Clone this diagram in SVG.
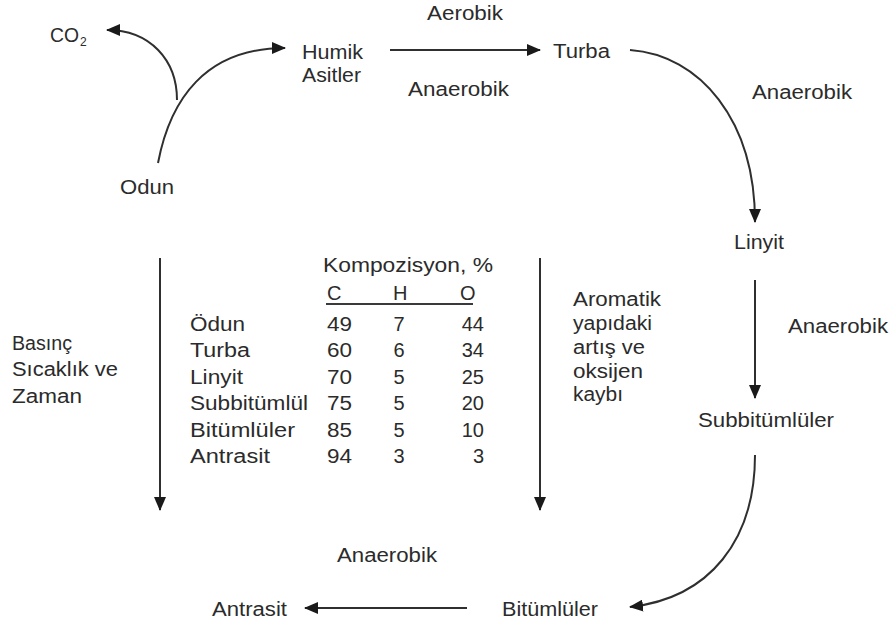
<svg xmlns="http://www.w3.org/2000/svg" width="893" height="632" viewBox="0 0 893 632">
  <style>
    text { font-family: "Liberation Sans", Arial, sans-serif; font-size: 20px; fill: #2b2b2b; }
    .sub { font-size: 12px; }
    .conn { fill: none; stroke: #2f2f2f; stroke-width: 2; marker-end: url(#arrow); }
  </style>
  <defs>
    <marker id="arrow" markerUnits="userSpaceOnUse" markerWidth="14" markerHeight="12" refX="13" refY="6" orient="auto">
      <path d="M0,0 L14,6 L0,12 z" fill="#1a1a1a"/>
    </marker>
  </defs>
  <rect width="893" height="632" fill="#ffffff"/>

  <!-- connectors -->
  <g id="connectors">
    <path class="conn" d="M158,163 C170,100 205,48 285,48"/>
    <path class="conn" d="M177,100 C177,60 150,30 107,30"/>
    <path class="conn" d="M390,50 L540,50"/>
    <path class="conn" d="M630,50 C700,55 755,120 755,222"/>
    <path class="conn" d="M755,280 L755,398"/>
    <path class="conn" d="M755,455 C755,540 710,598 630,607"/>
    <path class="conn" d="M467,608 L305,608"/>
    <path class="conn" d="M160,258 L160,510"/>
    <path class="conn" d="M540,258 L540,510"/>
  </g>

  <!-- nodes -->
  <g id="co2">
    <text x="50" y="42" textLength="29" lengthAdjust="spacingAndGlyphs">CO</text>
    <text class="sub" x="80" y="46">2</text>
  </g>
  <g id="odun"><text x="120" y="194" textLength="54" lengthAdjust="spacingAndGlyphs">Odun</text></g>
  <g id="humik">
    <text x="302" y="59" textLength="61" lengthAdjust="spacingAndGlyphs">Humik</text>
    <text x="302" y="82" textLength="59" lengthAdjust="spacingAndGlyphs">Asitler</text>
  </g>
  <g id="turba"><text x="553" y="58" textLength="57" lengthAdjust="spacingAndGlyphs">Turba</text></g>
  <g id="linyit"><text x="734" y="249" textLength="50" lengthAdjust="spacingAndGlyphs">Linyit</text></g>
  <g id="subbitumluler"><text x="698" y="427" textLength="136" lengthAdjust="spacingAndGlyphs">Subbitümlüler</text></g>
  <g id="bitumluler"><text x="502" y="616" textLength="96" lengthAdjust="spacingAndGlyphs">Bitümlüler</text></g>
  <g id="antrasit"><text x="212" y="616" textLength="75" lengthAdjust="spacingAndGlyphs">Antrasit</text></g>

  <!-- connector labels -->
  <g id="labels">
    <text x="427" y="20" textLength="76" lengthAdjust="spacingAndGlyphs">Aerobik</text>
    <text x="408" y="96" textLength="101" lengthAdjust="spacingAndGlyphs">Anaerobik</text>
    <text x="752" y="99" textLength="100" lengthAdjust="spacingAndGlyphs">Anaerobik</text>
    <text x="788" y="333" textLength="100" lengthAdjust="spacingAndGlyphs">Anaerobik</text>
    <text x="337" y="562" textLength="100" lengthAdjust="spacingAndGlyphs">Anaerobik</text>
    <text x="12" y="350" textLength="60" lengthAdjust="spacingAndGlyphs">Basınç</text>
    <text x="12" y="376" textLength="106" lengthAdjust="spacingAndGlyphs">Sıcaklık ve</text>
    <text x="12" y="403" textLength="70" lengthAdjust="spacingAndGlyphs">Zaman</text>
    <text x="573" y="306" textLength="88" lengthAdjust="spacingAndGlyphs">Aromatik</text>
    <text x="573" y="330" textLength="79" lengthAdjust="spacingAndGlyphs">yapıdaki</text>
    <text x="573" y="354" textLength="72" lengthAdjust="spacingAndGlyphs">artış ve</text>
    <text x="573" y="378" textLength="70" lengthAdjust="spacingAndGlyphs">oksijen</text>
    <text x="573" y="401" textLength="50" lengthAdjust="spacingAndGlyphs">kaybı</text>
  </g>

  <!-- composition table -->
  <g id="table">
    <text x="323" y="272" textLength="170" lengthAdjust="spacingAndGlyphs">Kompozisyon, %</text>
    <text x="327" y="300">C</text>
    <text x="393" y="300">H</text>
    <text x="460" y="300">O</text>
    <rect x="326" y="303" width="147" height="2" fill="#3a3a3a"/>

    <g>
      <text x="190" y="331" textLength="55" lengthAdjust="spacingAndGlyphs">Ödun</text>
      <text x="190" y="357" textLength="60" lengthAdjust="spacingAndGlyphs">Turba</text>
      <text x="190" y="384" textLength="53" lengthAdjust="spacingAndGlyphs">Linyit</text>
      <text x="190" y="410" textLength="118" lengthAdjust="spacingAndGlyphs">Subbitümlül</text>
      <text x="190" y="437" textLength="105" lengthAdjust="spacingAndGlyphs">Bitümlüler</text>
      <text x="190" y="463" textLength="80" lengthAdjust="spacingAndGlyphs">Antrasit</text>
    </g>
    <g>
      <text x="327" y="331" textLength="25" lengthAdjust="spacingAndGlyphs">49</text>
      <text x="327" y="357" textLength="25" lengthAdjust="spacingAndGlyphs">60</text>
      <text x="327" y="384" textLength="25" lengthAdjust="spacingAndGlyphs">70</text>
      <text x="327" y="410" textLength="25" lengthAdjust="spacingAndGlyphs">75</text>
      <text x="327" y="437" textLength="25" lengthAdjust="spacingAndGlyphs">85</text>
      <text x="327" y="463" textLength="25" lengthAdjust="spacingAndGlyphs">94</text>
    </g>
    <g text-anchor="middle">
      <text x="399" y="331">7</text>
      <text x="399" y="357">6</text>
      <text x="399" y="384">5</text>
      <text x="399" y="410">5</text>
      <text x="399" y="437">5</text>
      <text x="399" y="463">3</text>
    </g>
    <g text-anchor="end">
      <text x="484" y="331">44</text>
      <text x="484" y="357">34</text>
      <text x="484" y="384">25</text>
      <text x="484" y="410">20</text>
      <text x="484" y="437">10</text>
      <text x="484" y="463">3</text>
    </g>
  </g>
</svg>
